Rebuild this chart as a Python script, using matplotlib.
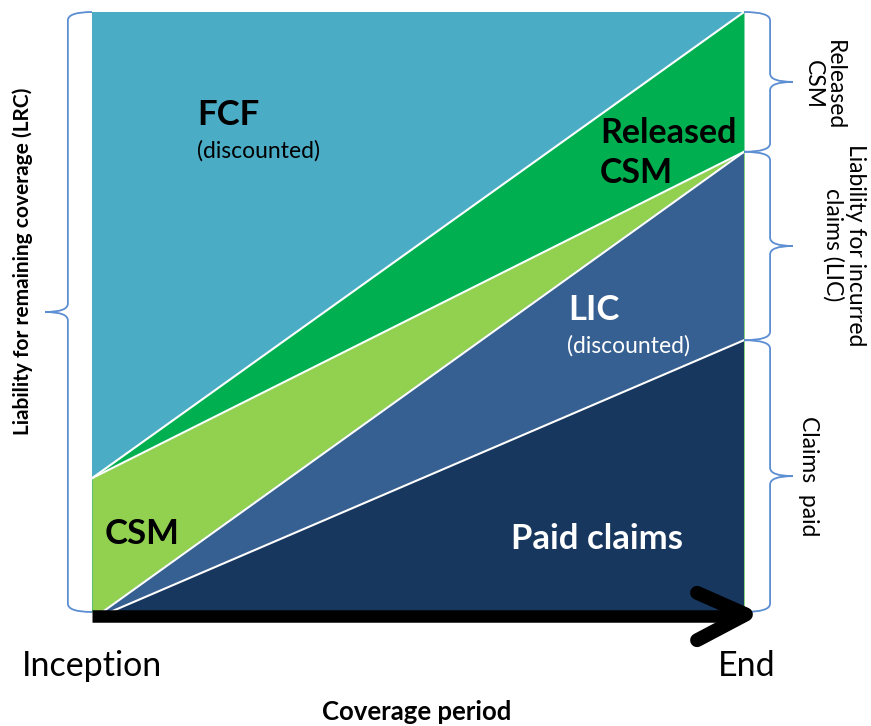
import matplotlib
matplotlib.use("Agg")
import matplotlib.pyplot as plt
from matplotlib.path import Path
from matplotlib.patches import PathPatch

plt.rcParams['font.family'] = ['Lato', 'DejaVu Sans']

# coverage period runs from 0 (inception) to 1 (end), liability share on y
period = [0.0, 1.0]
paid_claims = [0.0, 0.453]      # cumulative claims paid
incurred = [0.0, 0.767]         # paid claims + LIC
csm_line = [0.223, 0.767]       # top of remaining CSM
fcf_line = [0.223, 1.0]         # top of released CSM
paid_start = 0.028              # lines leave the axis slightly after inception
incurred_start = 0.016

# brace groups (y ranges)
lrc_span = [0.0, 1.0]
right_spans = [[incurred[1], 1.0], [paid_claims[1], incurred[1]], [0.0, paid_claims[1]]]

c_fcf = '#4BACC6'
c_rel = '#00B050'
c_csm = '#92D050'
c_lic = '#376092'
c_paid = '#17375E'
c_brace = '#5B8ED2'

W, H = 871, 726
fig = plt.figure(figsize=(W / 100, H / 100), dpi=100)
ax = fig.add_axes([92 / W, 1 - 612 / H, 652 / W, 600 / H])
ax.set_xlim(0, 1)
ax.set_ylim(0, 1)
ax.axis('off')

ax.fill_between(period, 0, 1, color=c_fcf, lw=0)
ax.fill_between(period, 0, fcf_line, color=c_rel, lw=0)
ax.fill_between(period, 0, csm_line, color=c_csm, lw=0)
ax.fill([incurred_start, period[1], period[1]], [0, incurred[1], 0], color=c_lic, lw=1.2, ec=c_lic)
ax.fill([paid_start, period[1], period[1]], [0, paid_claims[1], 0], color=c_paid, lw=1.2, ec=c_paid)

# white separator lines
ax.plot(period, fcf_line, color='white', lw=1.5)
ax.plot(period, csm_line, color='white', lw=1.5)
ax.plot([incurred_start, period[1]], incurred, color='white', lw=1.5)
ax.plot([paid_start, period[1]], paid_claims, color='white', lw=1.5)


def brace(y0, y1, spine, end, tip, r=0.014):
    ym = (y0 + y1) / 2
    verts = [(end, y0), (spine, y0), (spine, y0 + r),
             (spine, ym - r), (spine, ym), (tip, ym),
             (spine, ym), (spine, ym + r),
             (spine, y1 - r), (spine, y1), (end, y1)]
    codes = [Path.MOVETO, Path.CURVE3, Path.CURVE3,
             Path.LINETO, Path.CURVE3, Path.CURVE3,
             Path.CURVE3, Path.CURVE3,
             Path.LINETO, Path.CURVE3, Path.CURVE3]
    ax.add_patch(PathPatch(Path(verts, codes), fill=False, ec=c_brace,
                           lw=1.3, clip_on=False))


brace(lrc_span[0], lrc_span[1], -0.037, 0.0, -0.072)
for lo, hi in right_spans:
    brace(lo, hi, 1.04, 1.0, 1.075)

# time arrow
ax.plot([0, 1.0], [-0.007, -0.007], color='black', lw=9, solid_capstyle='butt', clip_on=False)
ax.plot([0.928, 1.003, 0.928], [0.032, -0.004, -0.047], color='black', lw=10,
        solid_capstyle='round', solid_joinstyle='round', clip_on=False)


def ftext(x, y, s, **kw):
    fig.text(x / W, 1 - y / H, s, **kw)


ftext(197, 115, 'FCF', fontsize=25, fontweight='bold', va='center', ha='left')
ftext(197, 151, '(discounted)', fontsize=16.5, va='center', ha='left')
ftext(600, 153, 'Released\nCSM', fontsize=24.5, fontweight='bold', va='center', ha='left',
      linespacing=1.3)
ftext(568, 310, 'LIC', fontsize=25, fontweight='bold', color='white', va='center', ha='left')
ftext(567, 346, '(discounted)', fontsize=16.5, color='white', va='center', ha='left')
ftext(105, 534, 'CSM', fontsize=25, fontweight='bold', va='center', ha='left')
ftext(511, 539, 'Paid claims', fontsize=25, fontweight='bold', color='white',
      va='center', ha='left')

ftext(22, 666, 'Inception', fontsize=24.5, va='center', ha='left')
ftext(718, 666, 'End', fontsize=24.5, va='center', ha='left')
ftext(417, 712, 'Coverage period', fontsize=18.5, fontweight='bold', va='center', ha='center')

ftext(23, 261, 'Liability for remaining coverage (LRC)', fontsize=15, fontweight='bold',
      rotation=90, va='center', ha='center')
ftext(824, 85, 'Released\nCSM', fontsize=16.5, rotation=-90, va='center', ha='center',
      linespacing=1.0)
ftext(844, 245, 'Liability for incurred\nclaims (LIC)', fontsize=16.5, rotation=-90,
      va='center', ha='center', linespacing=1.05)
ftext(808, 476, 'Claims  paid', fontsize=16.5, rotation=-90, va='center', ha='center')

fig.savefig('out.png', dpi=100)
